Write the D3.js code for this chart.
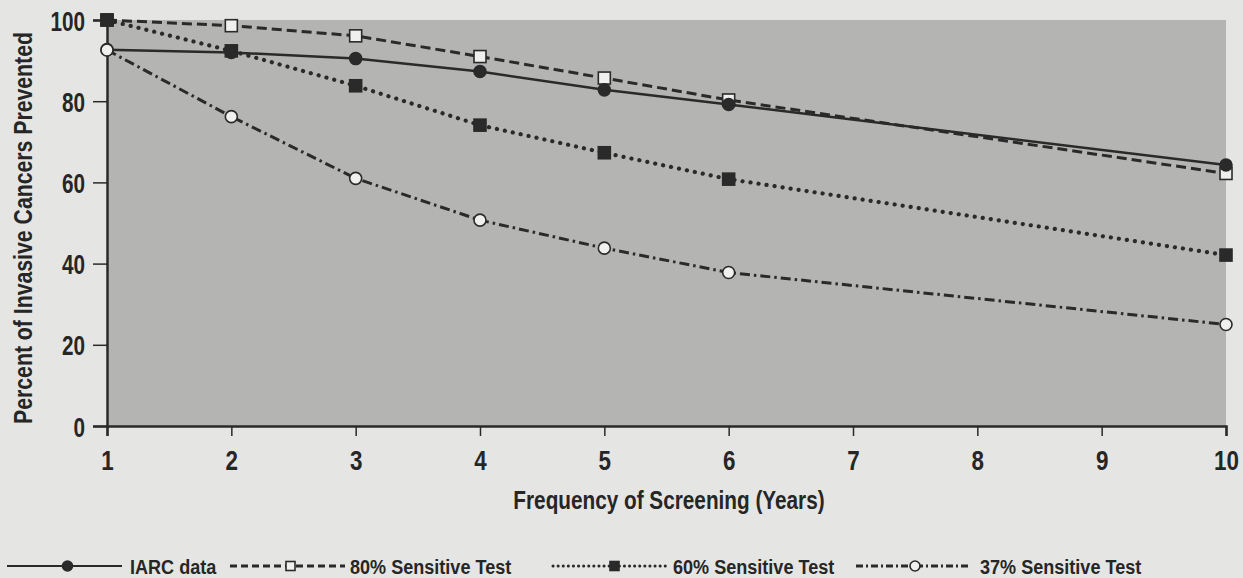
<!DOCTYPE html>
<html>
<head>
<meta charset="utf-8">
<script src="https://cdn.jsdelivr.net/npm/d3@7"></script>
<style>
  html, body { margin: 0; padding: 0; background: #e5e5e3; }
  svg { display: block; }
  text { font-family: "Liberation Sans", Arial, sans-serif; font-weight: bold; fill: #262626; }
</style>
</head>
<body>
<svg id="chart" width="1243" height="578"></svg>
<script>
// ---- data ----
const years = [1, 2, 3, 4, 5, 6, 10];
const iarcData = [92.7, 92.0, 90.5, 87.3, 82.8, 79.2, 64.3];
const sens80 = [100, 98.6, 96.1, 91.0, 85.7, 80.3, 62.2];
const sens60 = [100, 92.4, 83.8, 74.1, 67.3, 60.8, 42.1];
const sens37 = [92.6, 76.2, 61.0, 50.7, 43.8, 37.8, 25.0];
const xTicks = [1, 2, 3, 4, 5, 6, 7, 8, 9, 10];
const yTicks = [0, 20, 40, 60, 80, 100];
const seriesNames = ["IARC data", "80% Sensitive Test", "60% Sensitive Test", "37% Sensitive Test"];
const xTitle = "Frequency of Screening (Years)";
const yTitle = "Percent of Invasive Cancers Prevented";

const svg = d3.select("#chart");
const W = 1243, H = 578;
const margin = {left: 107, right: 17, top: 20, bottom: 152};
const x = d3.scaleLinear().domain([1, 10]).range([margin.left, W - margin.right]);
const y = d3.scaleLinear().domain([0, 100]).range([H - margin.bottom, margin.top]);

const ink = "#2a2a2a";

// plot background
svg.append("rect")
  .attr("x", x(1)).attr("y", y(100))
  .attr("width", x(10) - x(1)).attr("height", y(0) - y(100))
  .attr("fill", "#b4b4b2");

// axes
const yAxis = svg.append("g").attr("transform", `translate(${x(1)},0)`)
  .call(d3.axisLeft(y).tickValues(yTicks).tickSize(14).tickPadding(8));
const xAxis = svg.append("g").attr("transform", `translate(0,${y(0)})`)
  .call(d3.axisBottom(x).tickValues(xTicks).tickSize(10).tickPadding(8));
[yAxis, xAxis].forEach(g => {
  g.select(".domain").attr("stroke", ink).attr("stroke-width", 2.5);
  g.selectAll(".tick line").attr("stroke", ink).attr("stroke-width", 1.5);
  g.selectAll(".tick text").style("font-size", "28px").attr("fill", ink);
});
yAxis.selectAll(".tick text")
  .attr("x", 0).attr("dy", "0.36em")
  .attr("transform", "translate(-22,0) scale(0.74,1)");
xAxis.selectAll(".tick text")
  .attr("dy", "0.92em")
  .attr("transform", "scale(0.8,1)");

// titles
svg.append("text")
  .attr("transform", "translate(669,509) scale(0.83,1)")
  .attr("text-anchor", "middle")
  .style("font-size", "25px")
  .text(xTitle);
svg.append("text")
  .attr("transform", "translate(32,228) rotate(-90) scale(0.85,1)")
  .attr("text-anchor", "middle")
  .style("font-size", "25px")
  .text(yTitle);

// series definitions
const series = [
  {name: seriesNames[1], values: sens80, dash: "10 5", width: 3, cap: "butt", marker: "square", fill: "#f0f0ee", legendDash: "7 4"},
  {name: seriesNames[2], values: sens60, dash: "0.1 8", width: 4.2, cap: "round", marker: "square", fill: ink, legendDash: "0.1 5"},
  {name: seriesNames[0], values: iarcData, dash: null, width: 2.5, cap: "butt", marker: "circle", fill: ink, legendDash: null},
  {name: seriesNames[3], values: sens37, dash: "10 4 2.5 4", width: 3, cap: "butt", marker: "circle", fill: "#f0f0ee", legendDash: "7 3 2 3"}
];

const line = d3.line().x(d => x(d[0])).y(d => y(d[1]));

series.forEach(s => {
  const pts = years.map((yr, i) => [yr, s.values[i]]);
  svg.append("path")
    .attr("d", line(pts))
    .attr("fill", "none")
    .attr("stroke", ink)
    .attr("stroke-width", s.width)
    .attr("stroke-linecap", s.cap)
    .attr("stroke-dasharray", s.dash);
});

function drawMarker(g, type, cx, cy, size, fill) {
  if (type === "circle") {
    g.append("circle").attr("cx", cx).attr("cy", cy).attr("r", size / 2)
      .attr("fill", fill).attr("stroke", ink).attr("stroke-width", 1.6);
  } else {
    g.append("rect").attr("x", cx - size / 2).attr("y", cy - size / 2)
      .attr("width", size).attr("height", size)
      .attr("fill", fill).attr("stroke", ink).attr("stroke-width", 1.6);
  }
}

const mk = svg.append("g");
series.forEach(s => {
  years.forEach((yr, i) => drawMarker(mk, s.marker, x(yr), y(s.values[i]), 12, s.fill));
});

// legend
const legendY = 566;
const legendItems = [
  {s: series[2], x0: 7, x1: 122, text: 130},
  {s: series[0], x0: 230, x1: 345, text: 350},
  {s: series[1], x0: 553, x1: 670, text: 673},
  {s: series[3], x0: 856, x1: 968, text: 980}
];
const lg = svg.append("g");
legendItems.forEach(it => {
  lg.append("line")
    .attr("x1", it.x0).attr("x2", it.x1).attr("y1", legendY).attr("y2", legendY)
    .attr("stroke", ink)
    .attr("stroke-width", it.s.dash ? Math.min(it.s.width, 3) : 2.2)
    .attr("stroke-linecap", it.s.cap)
    .attr("stroke-dasharray", it.s.legendDash);
  drawMarker(lg, it.s.marker, (it.x0 + it.x1) / 2 + 3, legendY, it.s.marker === "circle" ? 10 : 9, it.s.fill);
  lg.append("text")
    .attr("transform", `translate(${it.text},574) scale(0.86,1)`)
    .style("font-size", "21px").text(it.s.name);
});
</script>
</body>
</html>
